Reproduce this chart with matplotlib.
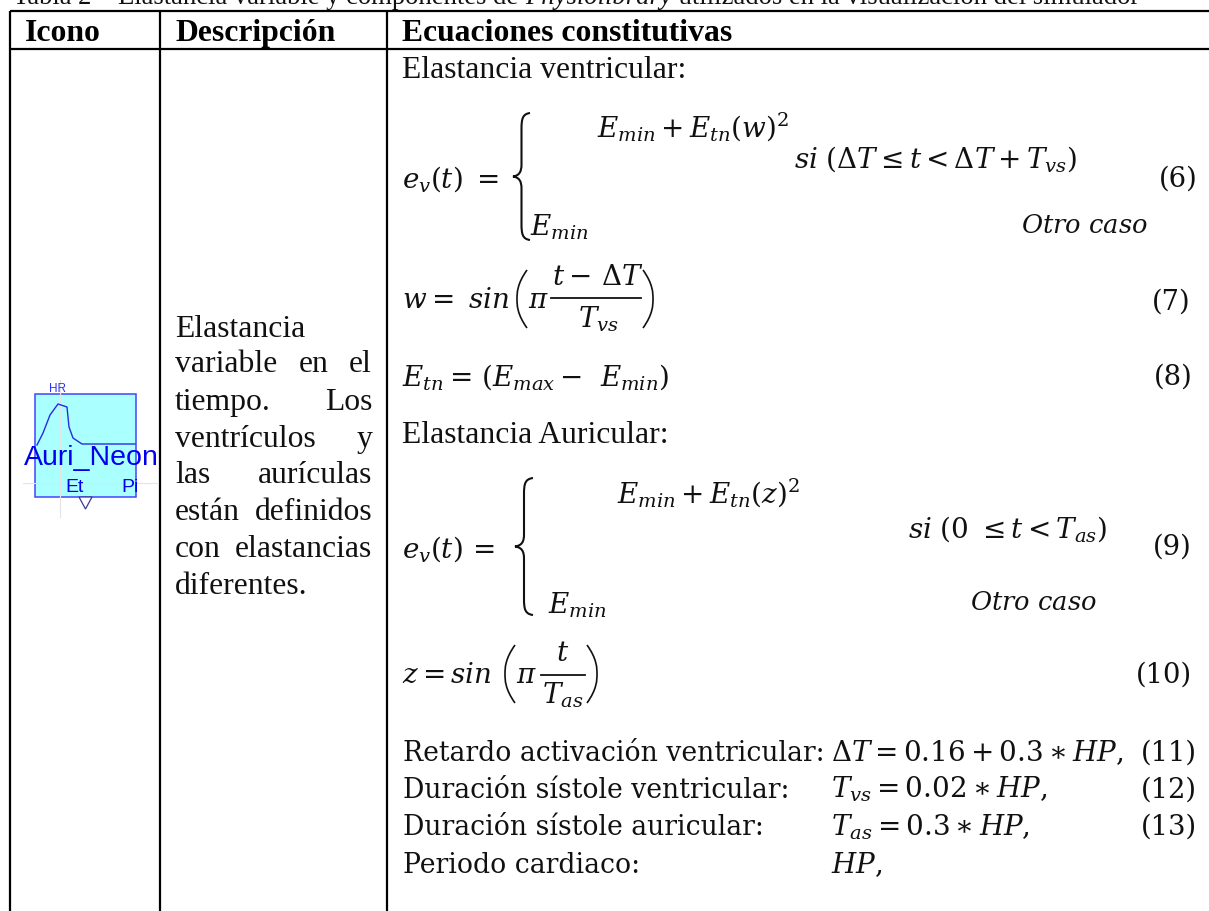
#!/usr/bin/env python3
import matplotlib
matplotlib.use("Agg")
import matplotlib.pyplot as plt
from matplotlib.path import Path
from matplotlib.patches import PathPatch, Rectangle, Polygon

plt.rcParams['font.family'] = ['Liberation Serif', 'DejaVu Serif']
plt.rcParams['mathtext.fontset'] = 'custom'
plt.rcParams['mathtext.rm'] = 'DejaVu Serif'
plt.rcParams['mathtext.it'] = 'DejaVu Serif:italic'
plt.rcParams['mathtext.bf'] = 'DejaVu Serif:bold'
plt.rcParams['mathtext.fallback'] = 'stix'

# caption runs (normal, italic, normal)
caption = ["Tabla 2 – Elastancia variable y componentes de ", "Physiolibrary",
           " utilizados en la visualización del simulador"]

headers = ["Icono", "Descripción", "Ecuaciones constitutivas"]

desc_lines = ["Elastancia", "variable en el", "tiempo. Los", "ventrículos y",
              "las aurículas", "están definidos", "con elastancias", "diferentes."]
desc_justified = [False, True, True, True, True, True, True, False]

plain_labels = ["Elastancia ventricular:", "Elastancia Auricular:"]
bottom_labels = ["Retardo activación ventricular:", "Duración sístole ventricular:",
                 "Duración sístole auricular:", "Periodo cardiaco:"]

equations = [
    r"$e_v(t)\ =$", r"$E_{min} + E_{tn}(w)^2$", r"$E_{min}$",
    r"$si\ (\mathrm{Δ}T \leq t < \mathrm{Δ}T + T_{vs})$", r"$Otro\ caso$",
    r"$w =\ sin$", r"$\pi$", r"$t -\,\mathrm{Δ}T$", r"$T_{vs}$",
    r"$E_{tn} =\, (E_{max} -\;\, E_{min})$",
    r"$e_v(t)\,=$", r"$E_{min} + E_{tn}(z)^2$", r"$E_{min}$",
    r"$si\ (0\ \leq t < T_{as})$", r"$Otro\ caso$",
    r"$z = sin$", r"$\pi$", r"$t$", r"$T_{as}$",
    r"$\mathrm{Δ}T = 0.16 + 0.3 \ast HP,$", r"$T_{vs} = 0.02 \ast HP,$",
    r"$T_{as} = 0.3 \ast HP,$", r"$HP,$",
]
eq_x = [402, 597, 530, 794, 1021,
        402, 528, 552, 578,
        402,
        402, 617, 548, 908, 970,
        402, 516, 556, 542,
        831, 831, 831, 831]
eq_y = [187, 137, 235, 167, 233,
        308, 308, 285, 328,
        385,
        557, 503, 613, 537, 610,
        683, 683, 661, 703,
        761, 798, 835, 873]

eq_numbers = ["(6)", "(7)", "(8)", "(9)", "(10)", "(11)", "(12)", "(13)"]
num_x = [1198, 1190, 1193, 1192, 1192, 1197, 1197, 1197]
num_y = [187, 310, 385, 555, 683, 761, 798, 835]

icon_name = "Auri_Neon"
icon_ports = ["HR", "Et", "Pi"]
curve_x = [37, 43, 50, 58, 67, 69, 73, 82, 135]
curve_y = [445, 433, 415, 404, 407, 427, 438, 444, 444]

fig = plt.figure(figsize=(12.09, 9.11), dpi=100)
ax = fig.add_axes([0, 0, 1, 1])
ax.set_xlim(0, 1209)
ax.set_ylim(911, 0)
ax.axis('off')

TEXT_SIZE = 22.8
MATH_SIZE = 20


def label(x, y, s, size=TEXT_SIZE, **kw):
    kw.setdefault('color', '#111111')
    return ax.text(x, y, s, fontsize=size, va='baseline', **kw)


def width_of(t):
    r = fig.canvas.get_renderer()
    b = t.get_window_extent(r)
    return b.width


def brace(x0, x1, y0, y1):
    xm = (x0 + x1) / 2
    ym = (y0 + y1) / 2
    verts = [(x1, y0), (xm + 1, y0 + 1), (xm, y0 + 6), (xm, y0 + 16),
             (xm, ym - 12), (xm, ym - 5), (xm - 2, ym - 1), (x0, ym),
             (xm - 2, ym + 1), (xm, ym + 5), (xm, ym + 12),
             (xm, y1 - 16), (xm, y1 - 6), (xm + 1, y1 - 1), (x1, y1)]
    codes = [Path.MOVETO, Path.CURVE4, Path.CURVE4, Path.CURVE4,
             Path.LINETO, Path.CURVE4, Path.CURVE4, Path.CURVE4,
             Path.CURVE4, Path.CURVE4, Path.CURVE4,
             Path.LINETO, Path.CURVE4, Path.CURVE4, Path.CURVE4]
    ax.add_patch(PathPatch(Path(verts, codes), fc='none', ec='#111111', lw=1.5))


def paren(x0, x1, y0, y1):
    ym = (y0 + y1) / 2
    verts = [(x1, y0), (x0, y0 + 14), (x0, ym - 6), (x0, ym),
             (x0, ym + 6), (x0, y1 - 14), (x1, y1)]
    codes = [Path.MOVETO] + [Path.CURVE4] * 6
    ax.add_patch(PathPatch(Path(verts, codes), fc='none', ec='#111111', lw=1.2))


# caption, clipped by the top of the page
x = 13
for i, run in enumerate(caption):
    t = label(x, 4, run, size=19.2, style='italic' if i == 1 else 'normal')
    x += width_of(t)

# table rules
for vx in [10, 160, 387]:
    ax.plot([vx, vx], [11, 911], color='black', lw=1.6, solid_capstyle='butt')
for hy in [11, 49]:
    ax.plot([10, 1209], [hy, hy], color='black', lw=1.6, solid_capstyle='butt')

for hx, h in zip([25, 175, 402], headers):
    label(hx, 41, h, fontweight='bold', color='black')

# description column, justified by hand
for line, just, by in zip(desc_lines, desc_justified, [337, 372, 410, 447, 483, 520, 557, 594]):
    if not just:
        label(175, by, line)
        continue
    words = line.split(" ")
    pieces = [label(175, by, w) for w in words]
    widths = [width_of(p) for p in pieces]
    gap = (372 - 175 - sum(widths)) / (len(words) - 1)
    wx = 175
    for p, w in zip(pieces, widths):
        p.set_x(wx)
        wx += w + gap

# plain labels of the equations column
for s, ly in zip(plain_labels, [78, 443]):
    label(402, ly, s)
for s, ly in zip(bottom_labels, [761, 798, 835, 873]):
    label(403, ly, s, size=19.2, family='DejaVu Serif')

for s, ex, ey in zip(equations, eq_x, eq_y):
    label(ex, ey, s, size=18.5 if "Otro" in s else MATH_SIZE)

for s, nx, ny in zip(eq_numbers, num_x, num_y):
    label(nx, ny, s, size=19.7, family='DejaVu Serif', ha='right')

# braces, parentheses and fraction bars
brace(513, 530, 113, 240)
brace(515, 533, 478, 615)
paren(517, 527, 270, 328)
paren(653, 643, 270, 328)
paren(505, 515, 645, 703)
paren(597, 587, 645, 703)
ax.plot([551, 641], [298, 298], color='#111111', lw=1.3)
ax.plot([541, 585], [675, 675], color='#111111', lw=1.3)

# component icon
ax.plot([23, 158], [483, 483], color='#e4e4e4', lw=0.8)
ax.plot([60, 60], [380, 517], color='#e4e4e4', lw=0.8)
ax.add_patch(Rectangle((35, 394), 101, 103, fc='#aaffff', ec='#4444ff', lw=1.1))
ax.plot(curve_x, curve_y, color='#2a2ae0', lw=1.0)
ax.add_patch(Polygon([(79, 497), (92, 497), (85.5, 509)], closed=True, fc='white', ec='#3a3a9a', lw=0.9))
label(91, 465, icon_name, size=20.5, family='Liberation Sans', color='#0000ee', ha='center')
label(57, 392, icon_ports[0], size=8.5, family='Liberation Sans', color='#3030ee', ha='center')
label(75, 492, icon_ports[1], size=14, family='Liberation Sans', color='#0000ee', ha='center')
label(130, 492, icon_ports[2], size=14, family='Liberation Sans', color='#0000ee', ha='center')

fig.savefig("out.png", dpi=100)
plt.close(fig)
